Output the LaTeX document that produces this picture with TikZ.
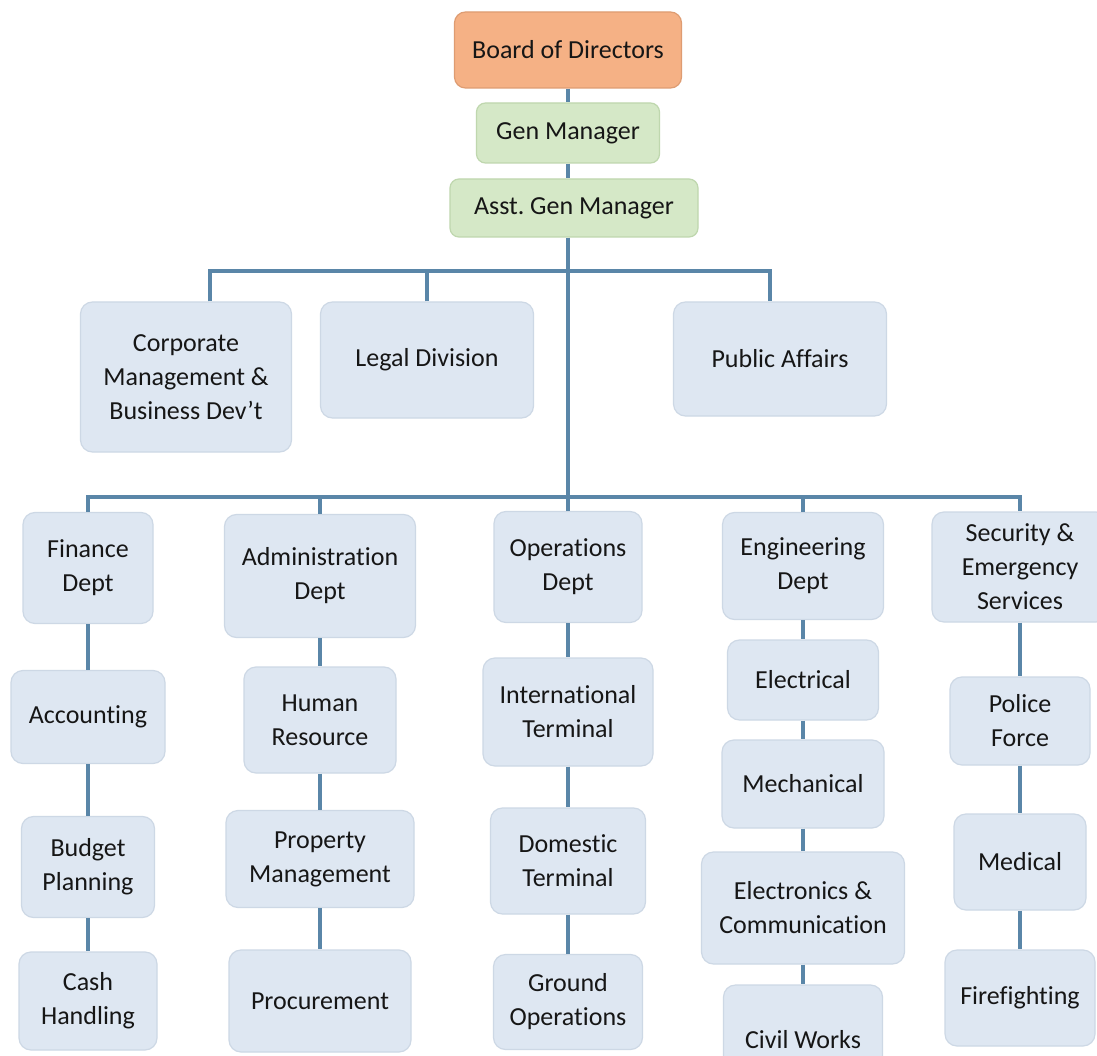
\documentclass[tikz,border=0pt]{standalone}
\usepackage{fontspec}
\setmainfont[Ligatures=NoCommon]{Carlito}

\definecolor{unitfill}{HTML}{DEE7F2}
\definecolor{unitline}{HTML}{CDD8E5}
\definecolor{mgrfill}{HTML}{D5E8C7}
\definecolor{mgrline}{HTML}{BFD7AE}
\definecolor{boardfill}{HTML}{F5B185}
\definecolor{boardline}{HTML}{DE9C72}
\definecolor{linkcol}{HTML}{5A86A8}
\definecolor{textcol}{HTML}{161616}

\tikzset{
  unit/.style={draw=unitline, fill=unitfill, line width=1.2pt, rounded corners=12pt,
               align=center, inner sep=0pt, text=textcol, font=\fontsize{26}{34}\selectfont},
  mgr/.style={unit, draw=mgrline, fill=mgrfill, rounded corners=9pt},
  boardbox/.style={unit, draw=boardline, fill=boardfill, rounded corners=11pt},
  boxsize/.style 2 args={minimum width=#1, minimum height=#2},
  link/.style={draw=linkcol, line width=3.2pt},
}

\begin{document}
\begin{tikzpicture}[x=1pt,y=-1pt]
  \path[use as bounding box, fill=white] (0,0) rectangle (1097,1056);

  \node (board) [boardbox, boxsize={227}{76}]  at (568,50)    {Board of Directors};
  \node (gm)    [mgr, boxsize={183}{60}]       at (568,133)   {Gen Manager};
  \node (agm)   [mgr, boxsize={248}{58}]       at (574,208)   {Asst.\ Gen Manager};

  \node (corp)  [unit, boxsize={211}{150}]     at (186,377)   {Corporate\\Management \&\\Business Dev’t};
  \node (legal) [unit, boxsize={213}{116}]     at (427,360)   {Legal Division};
  \node (pub)   [unit, boxsize={213}{114}]     at (780,359)   {Public Affairs};

  \node (fin)   [unit, boxsize={130}{111}]     at (88,568)    {Finance\\Dept};
  \node (acc)   [unit, boxsize={154}{93}]      at (88,717)    {Accounting};
  \node (bud)   [unit, boxsize={133}{101}]     at (88,867)    {Budget\\Planning};
  \node (cash)  [unit, boxsize={138}{98}]      at (88,1001)   {Cash\\Handling};

  \node (adm)   [unit, boxsize={191}{123}]     at (320,576)   {Administration\\Dept};
  \node (hr)    [unit, boxsize={152}{106}]     at (320,720)   {Human\\Resource};
  \node (prop)  [unit, boxsize={188}{97}]      at (320,859)   {Property\\Management};
  \node (proc)  [unit, boxsize={182}{102}]     at (320,1001)  {Procurement};

  \node (ops)   [unit, boxsize={148}{111}]     at (568,567)   {Operations\\Dept};
  \node (intl)  [unit, boxsize={170}{108}]     at (568,712)   {International\\Terminal};
  \node (dom)   [unit, boxsize={155}{106}]     at (568,861)   {Domestic\\Terminal};
  \node (grd)   [unit, boxsize={149}{95}]      at (568,1002)  {Ground\\Operations};

  \node (eng)   [unit, boxsize={161}{107}]     at (803,566)   {Engineering\\Dept};
  \node (elec)  [unit, boxsize={151}{80}]      at (803,680)   {Electrical};
  \node (mech)  [unit, boxsize={162}{88}]      at (803,784)   {Mechanical};
  \node (elcom) [unit, boxsize={203}{112}]     at (803,908)   {Electronics \&\\Communication};
  \node (civil) [unit, boxsize={159}{110}]     at (803,1040)  {Civil Works};

  \node (sec)   [unit, boxsize={176}{110}]     at (1020,567)  {Security \&\\Emergency\\Services};
  \node (pol)   [unit, boxsize={140}{88}]      at (1020,721)  {Police\\Force};
  \node (med)   [unit, boxsize={132}{96}]      at (1020,862)  {Medical};
  \node (fire)  [unit, boxsize={150}{96}]      at (1020,998)  {Firefighting};

  \coordinate (bus1) at (568,271);
  \coordinate (bus2) at (568,497);

  \draw [link] (board) -- (gm);
  \draw [link] (gm) -- (gm |- agm.north);
  \draw [link] (agm.south -| bus1) -- (ops.north);

  \draw [link] ([xshift=24pt]corp.north) |- (bus1) -| ([xshift=-10pt]pub.north);
  \draw [link] (legal.north) -- (legal.north |- bus1);

  \draw [link] (fin.north) |- (bus2) -| (sec.north);
  \draw [link] (adm.north) -- (adm.north |- bus2);
  \draw [link] (eng.north) -- (eng.north |- bus2);

  \foreach \a/\b in {fin/acc, acc/bud, bud/cash, adm/hr, hr/prop, prop/proc,
                     ops/intl, intl/dom, dom/grd, eng/elec, elec/mech, mech/elcom,
                     elcom/civil, sec/pol, pol/med, med/fire}
    \draw [link] (\a) -- (\b);
\end{tikzpicture}
\end{document}
